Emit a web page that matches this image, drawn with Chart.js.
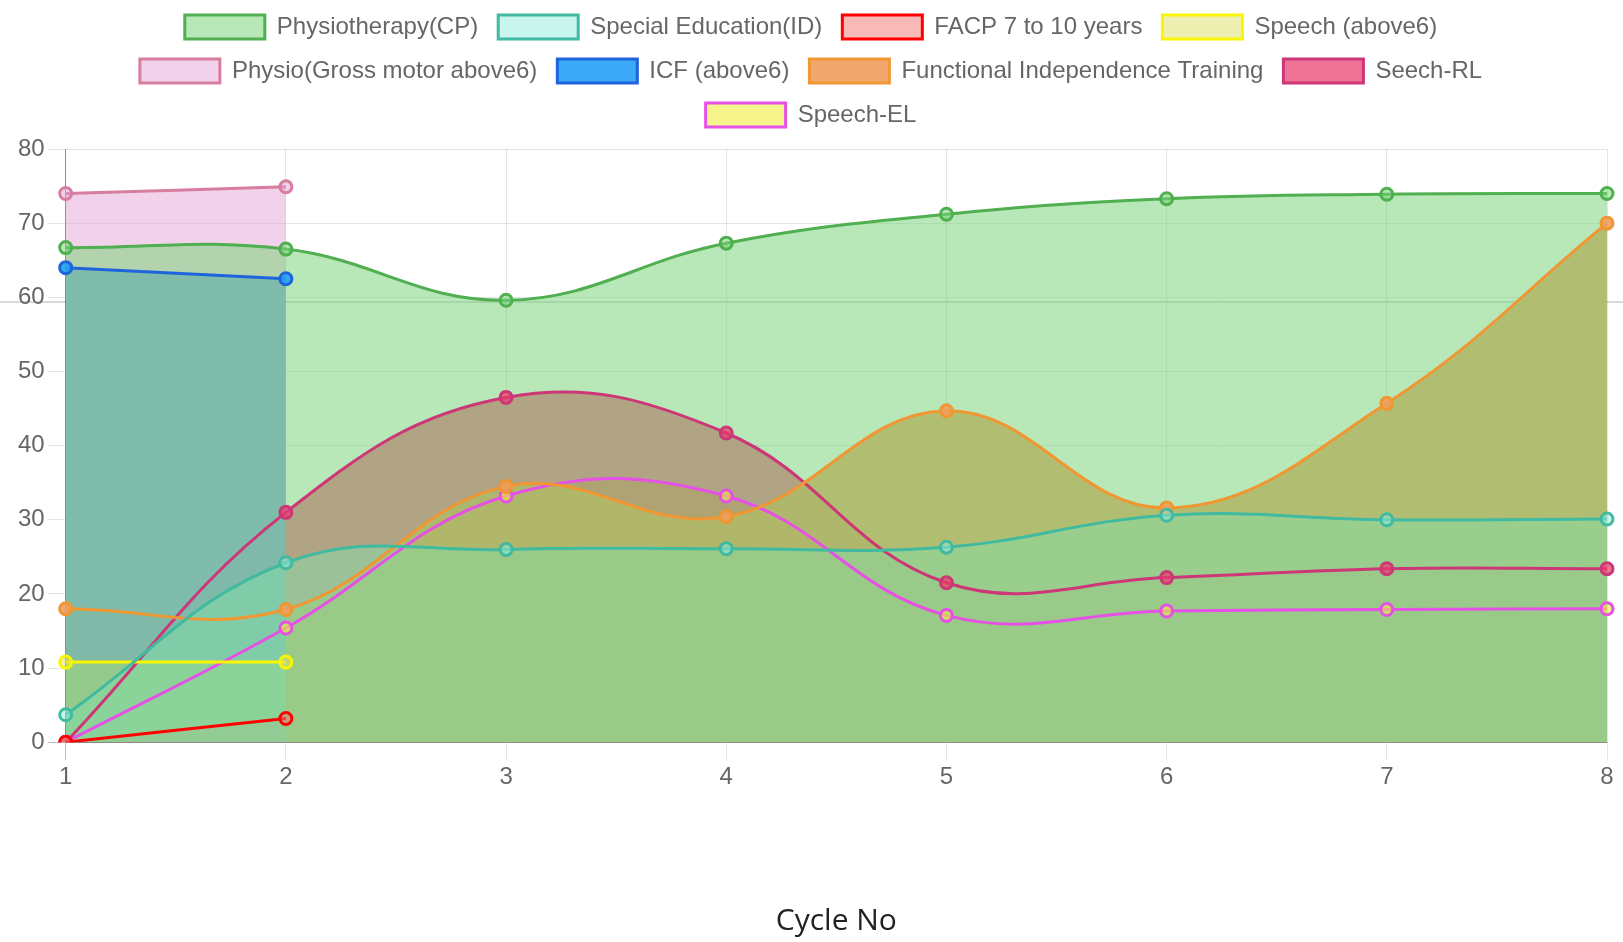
<!DOCTYPE html>
<html>
<head>
<meta charset="utf-8">
<title>Cycle progress</title>
<script src="https://cdn.jsdelivr.net/npm/chart.js@4/dist/chart.umd.min.js"></script>
<style>
  html, body { margin: 0; padding: 0; background: #fff; }
  #wrap { position: relative; width: 1623px; height: 942px; }
  #rule { position: absolute; left: 0; right: 0; top: 301px; height: 2px; background: #d9d9d9; }
  #chart { position: absolute; left: 0; top: 0; }
</style>
</head>
<body>
<div id="wrap">
  <div id="rule"></div>
  <canvas id="chart" width="1623" height="942"></canvas>
</div>
<script>
// chart data
var cycles = ['1', '2', '3', '4', '5', '6', '7', '8'];
var physioCP = [66.7, 66.5, 59.6, 67.3, 71.2, 73.3, 73.9, 74];
var specialEdID = [3.7, 24.2, 26, 26.1, 26.3, 30.6, 30, 30.1];
var facp7to10 = [0, 3.2];
var speechAbove6 = [10.8, 10.8];
var physioGrossAbove6 = [74, 74.9];
var icfAbove6 = [64, 62.5];
var functionalIndependence = [18, 17.9, 34.5, 30.4, 44.7, 31.6, 45.7, 70];
var seechRL = [0, 31, 46.5, 41.7, 21.5, 22.2, 23.4, 23.4];
var speechEL = [0, 15.4, 33.2, 33.2, 17.1, 17.7, 17.9, 18];
var yTicks = [0, 10, 20, 30, 40, 50, 60, 70, 80];

Chart.defaults.font.family = "'Liberation Sans', Arial, Helvetica, sans-serif";
Chart.defaults.font.size = 24;
Chart.defaults.color = '#666';

function series(label, data, border, bg){
    return {
        label: label,
        data: data,
        borderColor: border,
        backgroundColor: bg,
        pointBackgroundColor: bg,
        pointBorderColor: border,
        borderWidth: 3,
        pointRadius: 6,
        pointBorderWidth: 3,
        tension: 0.4,
        fill: 'origin'
    };
}

var gridColor = function(ctx){
    return ctx.index === 0 ? 'rgba(0,0,0,0.25)' : 'rgba(0,0,0,0.1)';
};

// extra space under the legend
var legendGap = {
    id: 'legendGap',
    beforeInit: function(chart){
        var fit = chart.legend.fit;
        chart.legend.fit = function(){
            fit.call(this);
            this.height += 12;
        };
    }
};

new Chart(document.getElementById('chart').getContext('2d'), {
    type: 'line',
    data: {
        labels: cycles,
        datasets: [
            series('Physiotherapy(CP)', physioCP, 'rgb(80,175,80)', 'rgba(118,211,118,0.52)'),
            series('Special Education(ID)', specialEdID, 'rgb(64,186,160)', 'rgba(145,235,221,0.5)'),
            series('FACP 7 to 10 years', facp7to10, 'rgb(255,0,0)', 'rgba(241,115,115,0.5)'),
            series('Speech (above6)', speechAbove6, 'rgb(250,245,0)', 'rgba(221,225,101,0.5)'),
            series('Physio(Gross motor above6)', physioGrossAbove6, 'rgb(215,125,160)', 'rgba(228,160,211,0.47)'),
            series('ICF (above6)', icfAbove6, 'rgb(30,100,220)', 'rgba(38,160,244,0.9)'),
            series('Functional Independence Training', functionalIndependence, 'rgb(240,150,50)', 'rgba(238,158,92,0.9)'),
            series('Seech-RL', seechRL, 'rgb(205,55,120)', 'rgba(233,55,105,0.7)'),
            series('Speech-EL', speechEL, 'rgb(230,80,230)', 'rgba(238,238,63,0.6)')
        ]
    },
    options: {
        responsive: false,
        animation: false,
        layout: { padding: { top: -5, left: 15, right: 16, bottom: 3 } },
        plugins: {
            filler: { drawTime: 'beforeDatasetsDraw' },
            tooltip: { enabled: false },
            legend: {
                labels: { boxWidth: 80, boxHeight: 24, padding: 20, color: '#666' }
            }
        },
        scales: {
            x: {
                grid: { color: gridColor, tickLength: 18 },
                border: { color: 'rgba(0,0,0,0.25)' },
                ticks: { padding: 3 },
                title: {
                    display: true,
                    text: 'Cycle No',
                    color: '#222',
                    font: { family: "'Open Sans', sans-serif", size: 30 },
                    padding: { top: 108, bottom: 0 }
                }
            },
            y: {
                min: 0,
                max: 80,
                afterBuildTicks: function(scale){
                    scale.ticks = yTicks.map(function(v){ return { value: v }; });
                },
                grid: { color: gridColor, tickLength: 18 },
                border: { color: 'rgba(0,0,0,0.25)' },
                ticks: { padding: 3 }
            }
        }
    },
    plugins: [legendGap]
});
</script>
</body>
</html>
